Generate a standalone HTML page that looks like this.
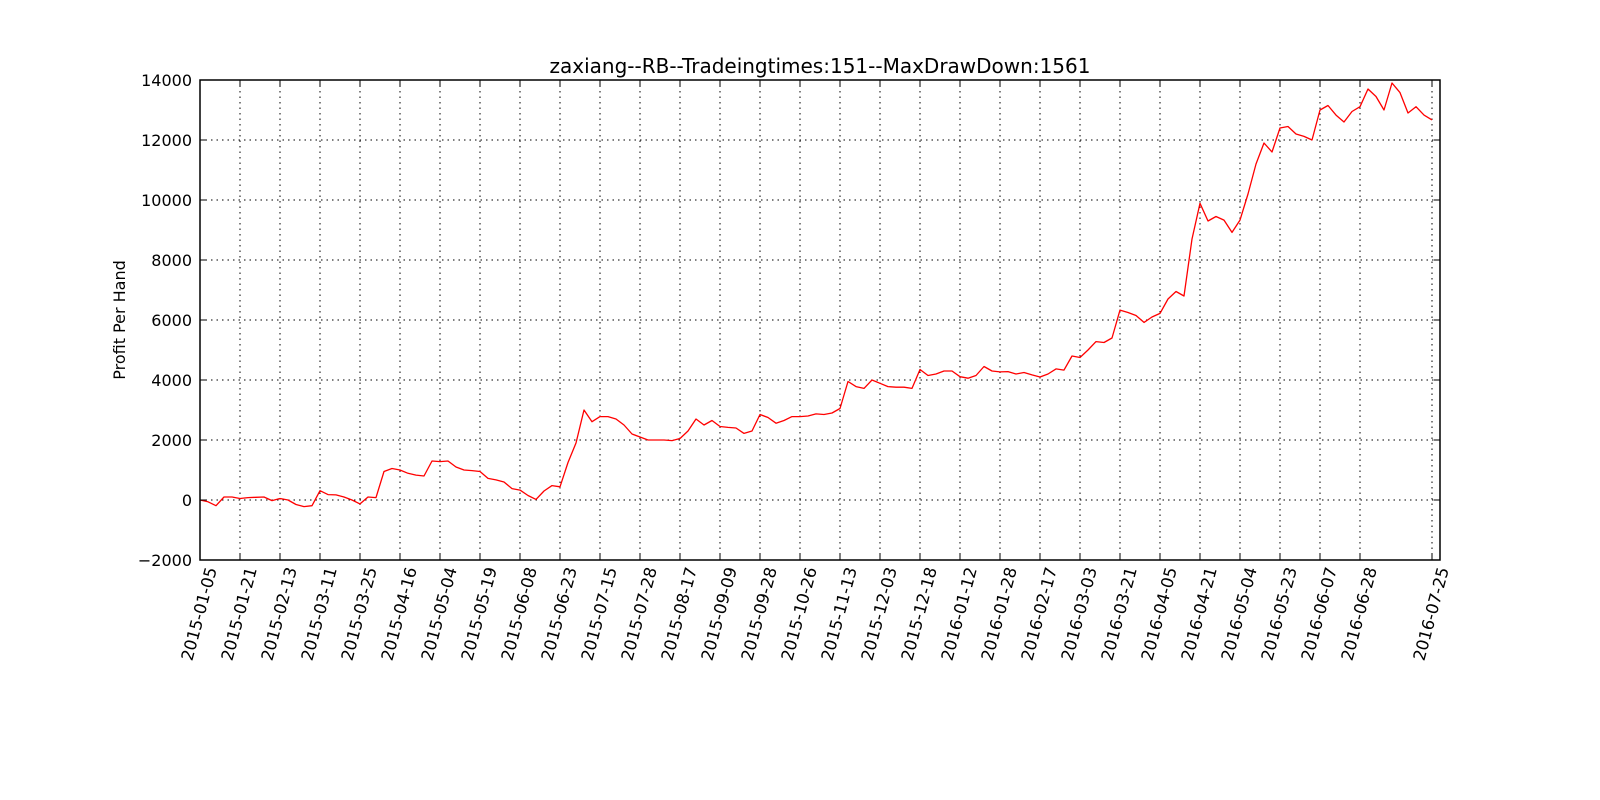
<!DOCTYPE html>
<html><head><meta charset="utf-8"><style>
html,body{margin:0;padding:0;background:#fff;}
svg{display:block;font-family:"DejaVu Sans","Liberation Sans",sans-serif;}
</style></head><body>
<svg id="chart" width="1600" height="800" viewBox="0 0 1600 800" xmlns="http://www.w3.org/2000/svg">
<rect width="1600" height="800" fill="#fff"/>
<text x="820" y="73" font-size="20" text-anchor="middle">zaxiang--RB--Tradeingtimes:151--MaxDrawDown:1561</text>
<text transform="translate(125,320) rotate(-90)" font-size="16" text-anchor="middle">Profit Per Hand</text>
<g id="grid"></g><g id="plot"></g><g id="axes"></g>
</svg>
<script>
const values=[0,-60,-190,100,100,50,80,90,100,-20,50,0,-150,-220,-190,310,180,170,100,0,-130,100,80,950,1050,1000,890,830,800,1300,1280,1300,1100,1000,980,950,720,670,600,380,330,150,20,300,480,440,1250,1900,3000,2610,2780,2780,2700,2500,2200,2100,2000,2000,2000,1980,2050,2300,2700,2500,2650,2450,2420,2400,2220,2300,2850,2750,2560,2650,2780,2780,2800,2870,2850,2900,3050,3950,3780,3720,4000,3890,3780,3760,3760,3720,4350,4150,4200,4300,4300,4110,4060,4150,4450,4300,4270,4280,4200,4250,4170,4100,4200,4370,4330,4800,4750,5000,5280,5250,5400,6330,6250,6150,5920,6100,6220,6700,6950,6800,8700,9890,9300,9450,9330,8920,9330,10200,11200,11900,11600,12400,12450,12200,12120,12000,13000,13150,12830,12600,12950,13110,13700,13450,13000,13900,13580,12900,13110,12830,12670];
const xTickLabels=["2015-01-05","2015-01-21","2015-02-13","2015-03-11","2015-03-25","2015-04-16","2015-05-04","2015-05-19","2015-06-08","2015-06-23","2015-07-15","2015-07-28","2015-08-17","2015-09-09","2015-09-28","2015-10-26","2015-11-13","2015-12-03","2015-12-18","2016-01-12","2016-01-28","2016-02-17","2016-03-03","2016-03-21","2016-04-05","2016-04-21","2016-05-04","2016-05-23","2016-06-07","2016-06-28","2016-07-25"];
const xTickIndex=[0,5,10,15,20,25,30,35,40,45,50,55,60,65,70,75,80,85,90,95,100,105,110,115,120,125,130,135,140,145,154];
const yTicks=[-2000,0,2000,4000,6000,8000,10000,12000,14000];
const L=200,R=1440,T=80,B=560,xMax=155,yMin=-2000,yMaxV=14000;
const X=i=>L+(R-L)*i/xMax;
const Y=v=>B-(B-T)*(v-yMin)/(yMaxV-yMin);
const NS="http://www.w3.org/2000/svg";
function mk(tag,attrs,parent){const e=document.createElementNS(NS,tag);for(const k in attrs)e.setAttribute(k,attrs[k]);parent.appendChild(e);return e;}
const grid=document.getElementById('grid'),plot=document.getElementById('plot'),axes=document.getElementById('axes');
yTicks.forEach(v=>{
 const y=Y(v);
 const g=mk('line',{x1:L,x2:R,y1:y,y2:y,stroke:'#000','stroke-width':1,'stroke-dasharray':'1.5,4'},grid);
 
 
 mk('line',{x1:L,x2:L+6,y1:y,y2:y,stroke:'#000'},axes);
 mk('line',{x1:R-6,x2:R,y1:y,y2:y,stroke:'#000'},axes);
 const t=mk('text',{x:L-8,y:y+6,'font-size':16,'text-anchor':'end'},axes);
 t.textContent=v===-2000?'\u22122000':String(v);
 
 
});
xTickIndex.forEach((i,k)=>{
 const x=X(i);
 const g=mk('line',{x1:x,x2:x,y1:T,y2:B,stroke:'#000','stroke-width':1,'stroke-dasharray':'1.5,4'},grid);
 
 
 mk('line',{x1:x,x2:x,y1:B-6,y2:B,stroke:'#000'},axes);
 mk('line',{x1:x,x2:x,y1:T,y2:T+6,stroke:'#000'},axes);
 const t=mk('text',{transform:`translate(${x+17},${B+9}) rotate(-75)`,'font-size':16.5,'text-anchor':'end'},axes);
 t.textContent=xTickLabels[k];
 
 
});
const pts=values.map((v,i)=>X(i).toFixed(1)+','+Y(v).toFixed(1)).join(' ');
const line=mk('polyline',{points:pts,fill:'none',stroke:'#ff0000','stroke-width':1.3,'stroke-linejoin':'round'},plot);


const fr=mk('rect',{x:L,y:T,width:R-L,height:B-T,fill:'none',stroke:'#000','stroke-width':1.5},axes);


</script>
</body></html>
